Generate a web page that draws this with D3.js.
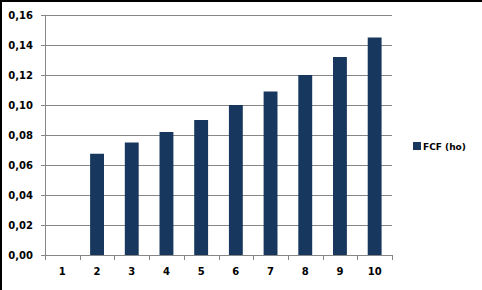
<!DOCTYPE html>
<html>
<head>
<meta charset="utf-8">
<script src="https://cdn.jsdelivr.net/npm/d3@7"></script>
<style>
  body { margin: 0; background: #fff; }
  svg { display: block; }
  text { font-family: "DejaVu Sans", Verdana, sans-serif; font-weight: bold; fill: #000; }
</style>
</head>
<body>
<div id="chart"></div>
<script>
// data
const categories = ["1", "2", "3", "4", "5", "6", "7", "8", "9", "10"];
const fcfHo = [0, 0.0675, 0.075, 0.082, 0.09, 0.1, 0.109, 0.12, 0.132, 0.145];
const yTicks = [0, 0.02, 0.04, 0.06, 0.08, 0.10, 0.12, 0.14, 0.16];
const seriesName = "FCF (ho)";

const W = 482, H = 290;
const margin = {top: 15, right: 90, bottom: 35, left: 45};
const width = W - margin.left - margin.right,
    height = H - margin.top - margin.bottom;

const svg = d3.select("#chart")
  .append("svg")
    .attr("width", W)
    .attr("height", H);

// outer frame (only top and left edges show)
svg.append("path")
  .attr("d", `M1,${H} V1 H${W}`)
  .attr("fill", "none")
  .attr("stroke", "#000")
  .attr("stroke-width", 2);

const g = svg.append("g")
  .attr("transform", `translate(${margin.left},${margin.top})`);

const x = d3.scaleBand()
  .domain(categories)
  .range([0, width])
  .paddingInner(0.6)
  .paddingOuter(0.3);

const y = d3.scaleLinear()
  .domain([0, 0.16])
  .range([height, 0]);

const fmt = v => d3.format(".2f")(v).replace(".", ",");

// gridlines + y axis
const yAxis = g.append("g")
  .call(d3.axisLeft(y).tickValues(yTicks).tickFormat(fmt).tickSize(4).tickPadding(8));
yAxis.select(".domain").attr("stroke", "#868686");
yAxis.selectAll(".tick line").attr("stroke", "#868686");
yAxis.selectAll(".tick text").attr("font-size", 10).style("font-family", "DejaVu Sans").style("font-weight", "bold");

g.append("g")
  .selectAll("line")
  .data(yTicks.filter(d => d > 0))
  .join("line")
    .attr("x1", 0)
    .attr("x2", width)
    .attr("y1", d => Math.round(y(d)) + 0.5)
    .attr("y2", d => Math.round(y(d)) + 0.5)
    .attr("stroke", "#868686");

// bars
g.append("g")
  .selectAll("rect")
  .data(fcfHo)
  .join("rect")
    .attr("x", (d, i) => x(categories[i]))
    .attr("y", d => y(d))
    .attr("width", x.bandwidth())
    .attr("height", d => height - y(d))
    .attr("fill", "#17375e");

// x axis with ticks between categories
const step = width / categories.length;
const xAxis = g.append("g")
  .attr("transform", `translate(0,${height})`);
xAxis.append("line")
  .attr("x1", 0).attr("x2", width)
  .attr("y1", 0.5).attr("y2", 0.5)
  .attr("stroke", "#868686");
xAxis.selectAll(".tk")
  .data(d3.range(categories.length + 1))
  .join("line")
    .attr("class", "tk")
    .attr("x1", i => Math.round(i * step) + 0.5)
    .attr("x2", i => Math.round(i * step) + 0.5)
    .attr("y1", 0)
    .attr("y2", 5)
    .attr("stroke", "#868686");
xAxis.selectAll("text")
  .data(categories)
  .join("text")
    .attr("x", d => x(d) + x.bandwidth() / 2)
    .attr("y", 20)
    .attr("text-anchor", "middle")
    .attr("font-size", 10)
    .text(d => d);

// legend
const legend = svg.append("g")
  .attr("transform", "translate(413,142)");
legend.append("rect")
  .attr("width", 8)
  .attr("height", 8)
  .attr("fill", "#17375e");
legend.append("text")
  .attr("x", 10)
  .attr("y", 7.5)
  .attr("font-size", 9)
  .text(seriesName);
</script>
</body>
</html>
